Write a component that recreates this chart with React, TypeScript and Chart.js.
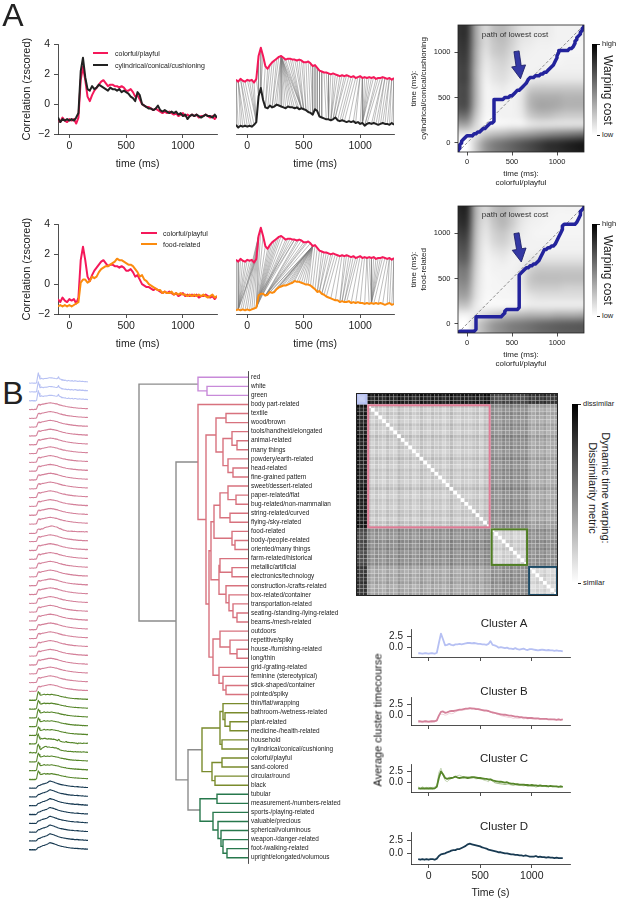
import React, { useEffect, useRef } from 'react';
import { Chart, registerables } from 'chart.js';

Chart.register(...registerables);

const FONT = '"Liberation Sans", Arial, Helvetica, sans-serif';
const INK = '#222222';
Chart.defaults.font.family = FONT;
Chart.defaults.color = INK;
if (typeof document !== 'undefined') document.body.style.margin = '0';

// ---------------- Panel A data ----------------
const TIME_MS = Array.from({ length: 71 }, (_, i) => -100 + 20 * i);
const msTicks = [0, 500, 1000];
const corrTicks = [-2, 0, 2, 4];

const colorfulPlayful = [
  -1.0, -1.2, -0.9, -1.1, -1.2, -1.0, -1.1, -1.0, -1.3, -0.9,
  1.6, 2.5, 1.6, 0.5, 0.2, 0.6, 0.9, 1.1, 1.3, 1.5,
  1.6, 1.4, 1.2, 1.3, 1.3, 1.2, 1.2, 1.1, 1.2, 1.1,
  0.9, 0.9, 1.0, 0.8, 0.5, 0.6, 0.3, 0.0, -0.1, -0.2,
  -0.2, -0.3, -0.4, -0.3, -0.4, -0.5, -0.6, -0.5, -0.6, -0.5,
  -0.6, -0.7, -0.6, -0.8, -0.7, -0.6, -0.8, -0.7, -0.8, -0.7,
  -0.8, -0.7, -0.9, -0.8, -0.8, -0.7, -0.8, -0.9, -0.8, -1.0,
  -0.8,
];
const cylindricalConical = [
  -0.9, -1.2, -1.0, -1.1, -1.0, -1.1, -1.0, -1.1, -0.9, -0.6,
  2.2, 3.1, 1.8, 1.0, 0.9, 1.2, 1.0, 1.1, 1.3, 1.2,
  1.1, 1.0, 0.9, 1.1, 1.0, 1.0, 0.9, 1.0, 0.8, 0.9,
  0.8, 0.7, 0.5, 0.4, 0.2, 0.8, 0.6, 0.0, -0.1, -0.2,
  -0.3, -0.3, -0.4, -0.3, -0.1, -0.4, -0.5, -0.4, -0.5, -0.6,
  -0.5, -0.6, -0.5, -0.7, -0.6, -0.8, -0.7, -1.0, -0.8, -0.7,
  -0.8, -0.7, -0.8, -0.9, -0.8, -0.7, -0.8, -0.8, -0.9, -0.7,
  -0.9,
];
const foodRelated = [
  -1.5, -1.4, -1.5, -1.4, -1.5, -1.4, -1.5, -1.4, -1.3, -1.2,
  0.1, 0.3, 0.3, 0.1, 0.2, 0.5, 0.4, 0.5, 0.8, 1.0,
  1.1, 1.2, 1.2, 1.3, 1.4, 1.5, 1.7, 1.6, 1.6, 1.5,
  1.4, 1.3, 1.3, 1.2, 1.0, 0.8, 0.5, 0.6, 0.3, 0.2,
  0.0, -0.1, -0.2, -0.3, -0.4, -0.4, -0.6, -0.5, -0.6, -0.6,
  -0.5, -0.7, -0.6, -0.7, -0.6, -0.7, -0.7, -0.8, -0.7, -0.8,
  -0.7, -0.8, -0.7, -0.8, -0.7, -0.8, -0.9, -0.8, -0.7, -0.9,
  -0.8,
];

// warping paths: [colorful/playful time, other time] in ms
const warpPathCylindrical = [
  [-100, -100], [-100, -80], [-80, -60], [-80, -40], [-80, -20], [-60, 0], [-60, 20], [-40, 40], [-20, 60], [0, 80],
  [20, 80], [40, 80], [60, 80], [80, 100], [100, 100], [120, 120], [140, 120], [160, 140], [180, 160], [200, 160],
  [220, 180], [240, 200], [260, 220], [280, 220], [300, 240], [300, 260], [300, 280], [300, 300], [300, 320], [300, 340],
  [300, 360], [300, 380], [300, 400], [300, 420], [300, 440], [300, 460], [300, 480], [320, 480], [340, 480], [360, 480],
  [380, 480], [400, 480], [420, 500], [440, 500], [460, 500], [480, 520], [500, 520], [520, 540], [540, 560], [560, 580],
  [580, 580], [600, 600], [620, 620], [640, 640], [660, 660], [680, 700], [700, 720], [720, 720], [740, 720], [760, 740],
  [780, 740], [800, 740], [820, 760], [840, 760], [860, 780], [880, 780], [900, 800], [920, 820], [940, 840], [960, 860],
  [980, 900], [1000, 940], [1000, 960], [1020, 1000], [1020, 1020], [1040, 1020], [1060, 1020], [1080, 1020], [1100, 1020], [1120, 1020],
  [1140, 1040], [1160, 1040], [1180, 1060], [1200, 1100], [1200, 1120], [1220, 1140], [1220, 1160], [1240, 1180], [1260, 1200], [1260, 1220],
  [1280, 1240], [1280, 1260], [1300, 1280], [1300, 1300],
];
const warpPathFood = [
  [-100, -100], [-80, -80], [-60, -80], [-40, -80], [-20, -80], [0, -80], [20, -80], [40, -80], [60, -80], [80, -80],
  [100, -60], [100, -40], [100, -20], [100, 0], [100, 20], [100, 40], [100, 60], [100, 80], [120, 80], [140, 80],
  [160, 80], [180, 80], [200, 80], [220, 80], [240, 80], [260, 80], [280, 80], [300, 80], [320, 80], [340, 80],
  [360, 80], [380, 80], [400, 100], [420, 120], [420, 140], [440, 160], [460, 160], [480, 160], [500, 160], [520, 160],
  [540, 160], [560, 160], [580, 180], [580, 200], [580, 220], [580, 240], [580, 260], [580, 280], [580, 300], [580, 320],
  [580, 340], [580, 360], [580, 380], [580, 400], [580, 420], [580, 440], [580, 460], [580, 480], [580, 500], [580, 520],
  [580, 540], [600, 560], [620, 580], [640, 600], [660, 620], [680, 620], [700, 640], [720, 640], [740, 660], [760, 660],
  [780, 680], [800, 700], [820, 740], [840, 780], [860, 820], [880, 820], [900, 840], [920, 840], [940, 860], [960, 860],
  [980, 880], [1000, 920], [1020, 960], [1040, 1000], [1060, 1040], [1060, 1080], [1080, 1100], [1100, 1100], [1120, 1100], [1140, 1100],
  [1160, 1100], [1180, 1100], [1200, 1100], [1220, 1120], [1240, 1160], [1260, 1200], [1260, 1240], [1280, 1260], [1300, 1280], [1300, 1300],
];

// warping cost grids, cells every 100 ms (-100..1300); rows from 1300 (top) down to -100
const warpCostCylindrical = [
  [.80, .80, .35, .15, .25, .28, .20, .12, .10, .08, .08, .05, .05, .05, .05],
  [.80, .80, .35, .15, .25, .28, .20, .12, .10, .08, .08, .05, .05, .05, .05],
  [.78, .78, .35, .15, .22, .25, .18, .10, .08, .06, .06, .05, .05, .04, .04],
  [.76, .76, .33, .12, .20, .22, .15, .08, .06, .05, .05, .04, .04, .04, .04],
  [.74, .74, .32, .10, .15, .18, .12, .06, .05, .05, .05, .04, .05, .05, .05],
  [.72, .72, .30, .08, .12, .15, .10, .05, .05, .06, .06, .06, .06, .06, .06],
  [.72, .72, .30, .06, .10, .12, .08, .05, .08, .10, .10, .10, .10, .10, .10],
  [.70, .70, .30, .05, .06, .08, .05, .08, .20, .22, .22, .22, .22, .22, .22],
  [.70, .70, .30, .05, .05, .06, .05, .10, .28, .32, .32, .32, .30, .30, .30],
  [.68, .68, .28, .05, .05, .05, .05, .10, .28, .35, .35, .33, .30, .30, .30],
  [.55, .55, .22, .04, .04, .05, .05, .08, .20, .25, .25, .22, .20, .20, .20],
  [.35, .35, .15, .03, .03, .04, .05, .05, .10, .12, .12, .12, .12, .12, .12],
  [.10, .10, .10, .20, .25, .28, .32, .35, .38, .42, .45, .48, .50, .52, .55],
  [.00, .00, .20, .40, .50, .55, .60, .65, .70, .75, .80, .82, .85, .88, .90],
  [.00, .00, .20, .40, .50, .55, .60, .65, .70, .75, .80, .82, .85, .88, .90],
];
const warpCostFood = [
  [.85, .85, .30, .15, .25, .30, .25, .15, .10, .08, .06, .05, .05, .05, .05],
  [.83, .83, .30, .15, .25, .30, .22, .12, .08, .06, .05, .04, .04, .04, .04],
  [.80, .80, .28, .12, .22, .28, .20, .10, .06, .05, .04, .04, .04, .04, .04],
  [.75, .75, .26, .10, .18, .22, .15, .08, .05, .04, .04, .04, .04, .04, .04],
  [.70, .70, .24, .08, .15, .18, .12, .06, .05, .05, .05, .05, .05, .05, .05],
  [.65, .65, .22, .06, .10, .12, .08, .05, .05, .06, .06, .06, .06, .06, .06],
  [.60, .60, .20, .05, .06, .08, .05, .06, .10, .12, .12, .12, .12, .12, .12],
  [.52, .52, .18, .04, .05, .05, .05, .08, .18, .22, .22, .22, .22, .22, .22],
  [.48, .48, .16, .04, .04, .05, .05, .10, .22, .26, .26, .26, .25, .25, .25],
  [.42, .42, .14, .04, .04, .04, .05, .08, .18, .20, .20, .20, .18, .18, .18],
  [.35, .35, .12, .03, .03, .04, .04, .06, .10, .12, .12, .12, .12, .12, .12],
  [.22, .22, .08, .03, .03, .03, .04, .05, .08, .08, .08, .08, .08, .08, .08],
  [.05, .05, .08, .15, .20, .24, .26, .28, .30, .30, .30, .32, .32, .32, .34],
  [.00, .00, .18, .30, .40, .45, .50, .52, .55, .58, .60, .62, .63, .64, .65],
  [.00, .00, .18, .30, .40, .45, .50, .52, .55, .58, .60, .62, .63, .64, .65],
];

// ---------------- Panel B data ----------------
const leafLabels = [
  'red', 'white', 'green', 'body part-related', 'textile', 'wood/brown', 'tools/handheld/elongated', 'animal-related',
  'many things', 'powdery/earth-related', 'head-related', 'fine-grained pattern', 'sweet/dessert-related', 'paper-related/flat',
  'bug-related/non-mammalian', 'string-related/curved', 'flying-/sky-related', 'food-related', 'body-/people-related',
  'oriented/many things', 'farm-related/historical', 'metallic/artificial', 'electronics/technology',
  'construction-/crafts-related', 'box-related/container', 'transportation-related', 'seating-/standing-/lying-related',
  'beams-/mesh-related', 'outdoors', 'repetitive/spiky', 'house-/furnishing-related', 'long/thin', 'grid-/grating-related',
  'feminine (stereotypical)', 'stick-shaped/container', 'pointed/spiky', 'thin/flat/wrapping', 'bathroom-/wetness-related',
  'plant-related', 'medicine-/health-related', 'household', 'cylindrical/conical/cushioning', 'colorful/playful',
  'sand-colored', 'circular/round', 'black', 'tubular', 'measurement-/numbers-related', 'sports-/playing-related',
  'valuable/precious', 'spherical/voluminous', 'weapon-/danger-related', 'foot-/walking-related', 'upright/elongated/volumous',
];
const clusterNames = ['Cluster A', 'Cluster B', 'Cluster C', 'Cluster D'];
const clusterSizes = [3, 33, 10, 8];

// linkage: [child a, child b, merge distance]; ids >= 54 refer to earlier merges
const linkage = [
  [1, 2, 41], [0, 54, 50], [4, 5, 22], [7, 8, 11], [6, 57, 16], [10, 11, 15], [9, 59, 20], [58, 60, 25], [56, 61, 32],
  [13, 14, 12], [12, 63, 20], [15, 16, 18], [64, 65, 28], [18, 19, 13], [17, 67, 16], [66, 68, 34], [21, 22, 16],
  [20, 70, 28], [26, 27, 11], [25, 72, 15], [24, 73, 19], [23, 74, 22], [71, 75, 29], [69, 76, 37], [30, 31, 11],
  [29, 78, 18], [28, 79, 28], [34, 35, 22], [33, 81, 25], [32, 82, 29], [80, 83, 35], [77, 84, 39], [62, 85, 42],
  [3, 86, 50], [38, 39, 18], [37, 88, 23], [36, 89, 25], [40, 41, 26], [90, 91, 28], [42, 43, 26], [44, 45, 33],
  [93, 94, 36], [92, 95, 46], [46, 47, 31], [52, 53, 21], [51, 98, 25], [50, 99, 27], [49, 100, 30], [48, 101, 35],
  [97, 102, 48], [96, 103, 60], [87, 104, 72], [55, 105, 109],
];

const clusterA = [
  -1.2, -1.2, -1.3, -1.2, -1.2, -1.3, -1.2, -1.2, -1.3, -1.1,
  1.0, 3.0, 1.8, 0.5, 0.6, 0.8, 0.6, 0.5, 0.7, 0.7,
  0.8, 0.7, 0.8, 0.9, 1.0, 1.0, 0.9, 1.0, 0.9, 0.8,
  0.8, 0.7, 0.7, 0.6, 0.8, 1.4, 0.6, 0.5, 0.3, 0.0,
  0.1, 0.0, -0.1, 0.0, -0.2, -0.2, -0.3, -0.1, -0.3, -0.4,
  -0.3, -0.2, -0.4, -0.5, -0.3, -0.3, -0.4, -0.5, -0.6, -0.5,
  -0.4, -0.5, -0.6, -0.5, -0.6, -0.6, -0.7, -0.6, -0.7, -0.7,
  -0.8,
];
const clusterB = [
  -1.2, -1.2, -1.3, -1.2, -1.2, -1.3, -1.2, -1.2, -1.2, -1.0,
  0.0, 0.8, 0.9, 0.6, 0.7, 0.9, 1.0, 1.0, 1.1, 1.2,
  1.3, 1.3, 1.4, 1.5, 1.5, 1.6, 1.5, 1.5, 1.4, 1.4,
  1.3, 1.2, 1.1, 1.1, 1.0, 0.8, 0.7, 0.6, 0.5, 0.4,
  0.3, 0.2, 0.2, 0.1, 0.0, 0.0, -0.1, -0.2, -0.2, -0.3,
  -0.3, -0.4, -0.4, -0.5, -0.5, -0.5, -0.6, -0.6, -0.6, -0.7,
  -0.7, -0.7, -0.7, -0.8, -0.8, -0.8, -0.8, -0.9, -0.8, -0.9,
  -0.8,
];
const clusterC = [
  -1.2, -1.3, -1.2, -1.3, -1.2, -1.3, -1.2, -1.3, -1.2, -0.9,
  1.0, 2.4, 1.8, 1.0, 0.8, 0.9, 1.0, 1.1, 1.3, 1.1,
  1.0, 1.1, 1.2, 1.1, 1.0, 1.1, 1.2, 1.2, 1.1, 1.0,
  1.0, 0.9, 0.8, 0.8, 0.7, 0.7, 0.5, 0.4, 0.3, 0.2,
  0.2, 0.1, 0.0, 0.1, -0.1, -0.2, -0.2, -0.3, -0.3, -0.4,
  -0.4, -0.4, -0.5, -0.5, -0.6, -0.5, -0.6, -0.6, -0.7, -0.6,
  -0.7, -0.7, -0.7, -0.8, -0.7, -0.8, -0.8, -0.8, -0.9, -0.8,
  -0.9,
];
const clusterD = [
  -1.1, -1.2, -1.1, -1.2, -1.1, -1.2, -1.1, -1.1, -1.2, -1.0,
  -0.5, -0.2, -0.1, 0.0, 0.2, 0.3, 0.5, 0.6, 0.6, 0.8,
  0.8, 1.0, 1.2, 1.4, 1.7, 1.8, 1.7, 1.6, 1.5, 1.4,
  1.3, 1.1, 1.0, 0.9, 0.7, 0.6, 0.5, 0.4, 0.3, 0.2,
  0.2, 0.1, 0.0, 0.0, -0.1, -0.2, -0.2, -0.3, -0.3, -0.4,
  -0.4, -0.5, -0.4, -0.5, -0.6, -0.6, -0.6, -0.5, -0.7, -0.6,
  -0.7, -0.7, -0.8, -0.7, -0.8, -0.8, -0.9, -0.8, -0.9, -0.9,
  -0.9,
];
const clusterTicks = [0, 2.5];

// DTW dissimilarity: block means between clusters, plus per-dimension deviation
const blockDissim = [
  [0.10, 0.88, 0.70, 0.78],
  [0.88, 0.20, 0.42, 0.33],
  [0.70, 0.42, 0.17, 0.42],
  [0.78, 0.33, 0.42, 0.15],
];
const leafDeviation = [
  0.03, -0.02, 0.01,
  0.05, -0.02, 0.03, 0.0, -0.03, 0.04, 0.0, -0.02, 0.06, 0.02, -0.01, 0.03, -0.03, 0.0, 0.05, 0.01, -0.02,
  0.04, 0.0, 0.02, -0.03, 0.01, 0.06, 0.0, -0.02, 0.03, 0.01, -0.01, 0.02, 0.04, -0.02, 0.05, 0.03,
  0.03, 0.0, -0.02, 0.04, 0.01, 0.05, -0.01, 0.02, 0.0, 0.03,
  0.02, -0.01, 0.03, 0.0, 0.04, -0.02, 0.01, 0.02,
];

// ---------------- styles ----------------
const PINK = '#f5185a';
const ORANGE = '#fb8b0e';
const BLACK = '#222222';
const PATH_BLUE = '#23239c';
const traceColors = ['#b6c0f3', '#d4819a', '#56862a', '#183a52'];
const dendroColors = ['#c88ad9', '#d8727e', '#7a8b2c', '#27784c'];
const DENDRO_GRAY = '#8c8c8c';

const leafCluster: number[] = clusterSizes.flatMap((n, c) => Array(n).fill(c));
const clusterStart: number[] = clusterSizes.map((_, c) => clusterSizes.slice(0, c).reduce((a, b) => a + b, 0));
const clusterMeans = [clusterA, clusterB, clusterC, clusterD];
const namedSeries: Record<string, number[]> = {
  'food-related': foodRelated,
  'cylindrical/conical/cushioning': cylindricalConical,
  'colorful/playful': colorfulPlayful,
};
const clusterMembersShown = [[], ['food-related'], ['cylindrical/conical/cushioning', 'colorful/playful'], []];

// ---------------- helpers ----------------
const pts = (vals: number[], shift = 0) => TIME_MS.map((t, i) => ({ x: t, y: vals[i] + shift }));
const valAt = (vals: number[], t: number) => vals[TIME_MS.indexOf(t)];
const fmt = (v: number, d = 0) => (v < 0 ? '\u2212' : '') + Math.abs(v).toFixed(d);

type Box = { l: number; t: number; r: number; b: number };

function axis(o: any) {
  return {
    type: 'linear',
    position: o.position,
    min: o.min,
    max: o.max,
    reverse: !!o.reverse,
    afterBuildTicks: (s: any) => {
      s.ticks = o.ticks.map((v: number) => ({ value: v }));
    },
    afterFit: (s: any) => {
      if (o.vertical) s.width = o.fit;
      else s.height = o.fit;
    },
    grid: {
      display: o.tickLen !== 0,
      drawOnChartArea: false,
      drawTicks: true,
      tickLength: o.tickLen ?? 4,
      color: INK,
      lineWidth: 0.8,
    },
    border: { display: o.border !== false, color: INK, width: 0.8 },
    ticks: {
      autoSkip: false,
      maxRotation: 0,
      minRotation: 0,
      padding: o.pad ?? 3,
      font: { family: FONT, size: o.size ?? 10 },
      color: INK,
      callback: o.labels ? o.labels : (v: number) => (o.noLabels ? '' : fmt(v, o.digits ?? 0)),
    },
    title: o.title
      ? { display: true, text: o.title, font: { family: FONT, size: o.titleSize ?? 10.5 }, color: INK, padding: 0 }
      : { display: false },
  };
}

function hidden(min: number, max: number, reverse = false) {
  return { type: 'linear', display: false, min, max, reverse };
}

function baseOptions(padding: any, scales: any) {
  return {
    animation: false,
    responsive: false,
    maintainAspectRatio: false,
    events: [],
    layout: { padding },
    plugins: { legend: { display: false }, tooltip: { enabled: false }, title: { display: false } },
    elements: { point: { radius: 0 }, line: { tension: 0, borderJoinStyle: 'round' } },
    scales,
  };
}

function CanvasChart({ box, make }: { box: Box; make: () => any }) {
  const ref = useRef<HTMLCanvasElement | null>(null);
  useEffect(() => {
    if (!ref.current) return;
    const chart = new Chart(ref.current, make());
    return () => chart.destroy();
  }, []);
  const w = box.r - box.l;
  const h = box.b - box.t;
  return (
    <canvas
      ref={ref}
      width={w}
      height={h}
      style={{ position: 'absolute', left: box.l, top: box.t, width: w, height: h }}
    />
  );
}

// ---------------- plugins ----------------
const heatPlugin = (grid: number[][]) => ({
  id: 'warpHeat',
  beforeDatasetsDraw(chart: any) {
    const { ctx, chartArea: a, scales } = chart;
    const rows = grid.length;
    const cols = grid[0].length;
    const off = document.createElement('canvas');
    off.width = cols;
    off.height = rows;
    const octx = off.getContext('2d')!;
    const img = octx.createImageData(cols, rows);
    grid.forEach((row, r) =>
      row.forEach((v, c) => {
        const g = Math.round(255 * (1 - v));
        const k = (r * cols + c) * 4;
        img.data[k] = g;
        img.data[k + 1] = g;
        img.data[k + 2] = g;
        img.data[k + 3] = 255;
      })
    );
    octx.putImageData(img, 0, 0);
    const x0 = scales.x.getPixelForValue(-150);
    const x1 = scales.x.getPixelForValue(1350);
    const y0 = scales.y.getPixelForValue(1350);
    const y1 = scales.y.getPixelForValue(-150);
    ctx.save();
    ctx.beginPath();
    ctx.rect(a.left, a.top, a.right - a.left, a.bottom - a.top);
    ctx.clip();
    ctx.imageSmoothingEnabled = true;
    ctx.imageSmoothingQuality = 'high';
    ctx.drawImage(off, x0, y0, x1 - x0, y1 - y0);
    ctx.restore();
  },
  afterDatasetsDraw(chart: any) {
    const { ctx, chartArea: a } = chart;
    ctx.save();
    ctx.strokeStyle = INK;
    ctx.lineWidth = 0.8;
    ctx.strokeRect(a.left, a.top, a.right - a.left, a.bottom - a.top);
    ctx.restore();
  },
});

const arrowPlugin = (from: number[], to: number[]) => ({
  id: 'costArrow',
  afterDatasetsDraw(chart: any) {
    const { ctx, scales } = chart;
    const x0 = scales.x.getPixelForValue(from[0]);
    const y0 = scales.y.getPixelForValue(from[1]);
    const x1 = scales.x.getPixelForValue(to[0]);
    const y1 = scales.y.getPixelForValue(to[1]);
    const ang = Math.atan2(y1 - y0, x1 - x0);
    const len = Math.hypot(x1 - x0, y1 - y0);
    const headL = 13;
    const headW = 7;
    const shaftW = 2.6;
    ctx.save();
    ctx.translate(x0, y0);
    ctx.rotate(ang);
    ctx.beginPath();
    ctx.moveTo(0, -shaftW);
    ctx.lineTo(len - headL, -shaftW);
    ctx.lineTo(len - headL, -headW);
    ctx.lineTo(len, 0);
    ctx.lineTo(len - headL, headW);
    ctx.lineTo(len - headL, shaftW);
    ctx.lineTo(0, shaftW);
    ctx.closePath();
    ctx.fillStyle = '#3438a3';
    ctx.fill();
    ctx.strokeStyle = '#1b1d66';
    ctx.lineWidth = 0.8;
    ctx.stroke();
    ctx.restore();
  },
});

function dissim(i: number, j: number) {
  if (i === j) return 0;
  const v = blockDissim[leafCluster[i]][leafCluster[j]] + leafDeviation[i] + leafDeviation[j];
  return Math.max(0, Math.min(1, v));
}

const matrixPlugin = {
  id: 'dtwMatrix',
  beforeDatasetsDraw(chart: any) {
    const { ctx, scales, chartArea: a } = chart;
    const n = leafLabels.length;
    const px = (v: number) => scales.x.getPixelForValue(v);
    const py = (v: number) => scales.y.getPixelForValue(v);
    ctx.save();
    for (let i = 0; i < n; i++) {
      for (let j = 0; j < n; j++) {
        const g = Math.round(255 * (1 - dissim(i, j)));
        ctx.fillStyle = `rgb(${g},${g},${g})`;
        ctx.fillRect(px(j), py(i), px(j + 1) - px(j), py(i + 1) - py(i));
      }
    }
    ctx.strokeStyle = 'rgba(255,255,255,0.35)';
    ctx.lineWidth = 0.5;
    for (let k = 1; k < n; k++) {
      ctx.beginPath();
      ctx.moveTo(px(k), a.top);
      ctx.lineTo(px(k), a.bottom);
      ctx.moveTo(a.left, py(k));
      ctx.lineTo(a.right, py(k));
      ctx.stroke();
    }
    clusterSizes.forEach((size, c) => {
      const s = clusterStart[c];
      const x0 = px(s), x1 = px(s + size), y0 = py(s), y1 = py(s + size);
      if (c === 0) {
        ctx.fillStyle = 'rgba(183,193,243,0.75)';
        ctx.fillRect(x0, y0, x1 - x0, y1 - y0);
      }
      ctx.strokeStyle = ['#b7c1f3', '#e07b95', '#4f7d22', '#1d4b66'][c];
      ctx.lineWidth = 2;
      ctx.strokeRect(x0 + 1, y0 + 1, x1 - x0 - 2, y1 - y0 - 2);
    });
    ctx.strokeStyle = INK;
    ctx.lineWidth = 1;
    ctx.strokeRect(a.left + 0.5, a.top + 0.5, a.right - a.left - 1, a.bottom - a.top - 1);
    ctx.restore();
  },
};

// ---------------- chart factories ----------------
function correlationChart(other: number[], otherColor: string, top: number) {
  const canvas = { l: 20, t: top - 10, r: 222, b: top + 126 };
  const plot = { l: 58, t: top, r: 217, b: top + 90 };
  const make = () => ({
    type: 'line',
    data: {
      datasets: [
        { data: pts(colorfulPlayful), borderColor: PINK, borderWidth: 2, pointRadius: 0, order: 2 },
        { data: pts(other), borderColor: otherColor, borderWidth: 2, pointRadius: 0, order: 1 },
      ],
    },
    options: baseOptions(
      { left: 0, right: canvas.r - plot.r, top: plot.t - canvas.t, bottom: 0 },
      {
        x: axis({ min: -100, max: 1300, ticks: msTicks, size: 10.5, title: 'time (ms)', fit: canvas.b - plot.b, pad: 2 }),
        y: axis({ min: -2, max: 4, ticks: corrTicks, size: 10.5, title: 'Correlation (zscored)', titleSize: 11, fit: plot.l - canvas.l, vertical: true, pad: 4 }),
      }
    ),
  });
  return { canvas, make };
}

function alignmentChart(other: number[], otherColor: string, path: number[][], top: number) {
  const canvas = { l: 230, t: top - 10, r: 400, b: top + 126 };
  const plot = { l: 236, t: top, r: 394, b: top + 90 };
  const connectors: any[] = [];
  path.forEach(([tp, to]) => {
    connectors.push({ x: tp, y: valAt(colorfulPlayful, tp) + 2.5 });
    connectors.push({ x: to, y: valAt(other, to) - 2.5 });
    connectors.push({ x: NaN, y: NaN });
  });
  const make = () => ({
    type: 'line',
    data: {
      datasets: [
        { data: connectors, borderColor: 'rgba(120,120,120,0.7)', borderWidth: 0.7, pointRadius: 0, order: 3, spanGaps: false },
        { data: pts(colorfulPlayful, 2.5), borderColor: PINK, borderWidth: 2, pointRadius: 0, order: 2 },
        { data: pts(other, -2.5), borderColor: otherColor, borderWidth: 2, pointRadius: 0, order: 1 },
      ],
    },
    options: baseOptions(
      { left: plot.l - canvas.l, right: canvas.r - plot.r, top: plot.t - canvas.t, bottom: 0 },
      {
        x: axis({ min: -100, max: 1300, ticks: msTicks, size: 10.5, title: 'time (ms)', fit: canvas.b - plot.b, pad: 2 }),
        y: hidden(-4.4, 5.4),
      }
    ),
  });
  return { canvas, make };
}

function warpChart(path: number[][], grid: number[][], otherName: string, top: number, arrowFrom: number[], arrowTo: number[]) {
  const canvas = { l: 409, t: top - 10, r: 590, b: top + 163 };
  const plot = { l: 458, t: top, r: 584, b: top + 127 };
  const make = () => ({
    type: 'line',
    data: {
      datasets: [
        {
          data: path.map(([a, b]) => ({ x: a, y: b })),
          borderColor: PATH_BLUE,
          borderWidth: 3.5,
          borderCapStyle: 'round',
          borderJoinStyle: 'round',
          pointRadius: 0,
          order: 1,
        },
        {
          data: [{ x: -100, y: -100 }, { x: 1300, y: 1300 }],
          borderColor: '#707070',
          borderWidth: 0.8,
          borderDash: [3, 2],
          pointRadius: 0,
          order: 2,
        },
      ],
    },
    options: baseOptions(
      { left: 0, right: canvas.r - plot.r, top: plot.t - canvas.t, bottom: 0 },
      {
        x: axis({ min: -100, max: 1300, ticks: msTicks, size: 7.5, title: ['time (ms):', 'colorful/playful'], titleSize: 8, fit: canvas.b - plot.b, tickLen: 3.5, pad: 2, border: false }),
        y: axis({ min: -100, max: 1300, ticks: msTicks, size: 7.5, title: ['time (ms):', otherName], titleSize: 8, fit: plot.l - canvas.l, vertical: true, tickLen: 3.5, pad: 4, border: false }),
      }
    ),
    plugins: [heatPlugin(grid), arrowPlugin(arrowFrom, arrowTo)],
  });
  return { canvas, make };
}

function tracesChart() {
  const canvas = { l: 25, t: 360, r: 95, b: 870 };
  const datasets = leafLabels.map((name, k) => {
    const series = namedSeries[name] ?? clusterMeans[leafCluster[k]];
    return {
      data: pts(series, -k * 3.67),
      borderColor: traceColors[leafCluster[k]],
      borderWidth: 1.1,
      pointRadius: 0,
    };
  });
  const make = () => ({
    type: 'line',
    data: { datasets },
    options: baseOptions({ left: 4, right: 7, top: 0, bottom: 0 }, { x: hidden(-100, 1300), y: hidden(-204.1, 8.38) }),
  });
  return { canvas, make };
}

function dendrogramChart() {
  const canvas = { l: 130, t: 365, r: 352, b: 870 };
  const n = leafLabels.length;
  const ys: number[] = leafLabels.map((_, i) => i);
  const hs: number[] = leafLabels.map(() => 0);
  const leaves: number[][] = leafLabels.map((_, i) => [i]);
  const segs: any[][] = [[], [], [], [], []];
  linkage.forEach(([a, b, h]) => {
    ys.push((ys[a] + ys[b]) / 2);
    hs.push(h);
    const lv = [...leaves[a], ...leaves[b]];
    leaves.push(lv);
    const c0 = leafCluster[lv[0]];
    const same = lv.every((i) => leafCluster[i] === c0);
    const bucket = same ? c0 : 4;
    segs[bucket].push(
      { x: hs[a], y: ys[a] },
      { x: h, y: ys[a] },
      { x: h, y: ys[b] },
      { x: hs[b], y: ys[b] },
      { x: NaN, y: NaN }
    );
  });
  const colors = [...dendroColors, DENDRO_GRAY];
  const make = () => ({
    type: 'line',
    data: {
      datasets: segs.map((d, i) => ({
        data: d,
        borderColor: colors[i],
        borderWidth: 1.4,
        pointRadius: 0,
        spanGaps: false,
        borderJoinStyle: 'miter',
      })),
    },
    options: baseOptions(
      { left: 8, right: 0, top: 6.6, bottom: 6.6 },
      {
        x: hidden(0, 110, true),
        y: axis({
          position: 'right',
          min: -0.6,
          max: n - 0.4,
          reverse: true,
          ticks: ys.slice(0, n),
          size: 6.4,
          vertical: true,
          fit: 104,
          tickLen: 0,
          pad: 3,
          labels: (v: number) => leafLabels[v],
        }),
      }
    ),
  });
  return { canvas, make };
}

function matrixChart() {
  const canvas = { l: 356, t: 393, r: 558, b: 596 };
  const n = leafLabels.length;
  const make = () => ({
    type: 'line',
    data: { datasets: [] },
    options: baseOptions(0, { x: hidden(0, n), y: hidden(0, n, true) }),
    plugins: [matrixPlugin],
  });
  return { canvas, make };
}

const clusterPlotTops = [625, 693, 760, 828];
function clusterChart(c: number) {
  const pt = clusterPlotTops[c];
  const plot = { l: 411, t: pt, r: 570, b: pt + 36 };
  const last = c === clusterNames.length - 1;
  const canvas = { l: 372, t: pt - 6, r: 576, b: last ? 899 : pt + 42 };
  const faint = clusterMembersShown[c].map((name) => ({
    data: pts(namedSeries[name]),
    borderColor: traceColors[c] + '55',
    borderWidth: 1,
    pointRadius: 0,
    order: 2,
  }));
  const make = () => ({
    type: 'line',
    data: {
      datasets: [
        ...faint,
        { data: pts(clusterMeans[c]), borderColor: traceColors[c], borderWidth: 1.8, pointRadius: 0, order: 1 },
      ],
    },
    options: baseOptions(
      { left: 0, right: canvas.r - plot.r, top: plot.t - canvas.t, bottom: 0 },
      {
        x: axis({
          min: -170,
          max: 1370,
          ticks: msTicks,
          size: 10.5,
          noLabels: !last,
          title: last ? 'Time (s)' : undefined,
          titleSize: 10.5,
          fit: canvas.b - plot.b,
          pad: 2,
        }),
        y: axis({ min: -2, max: 4, ticks: clusterTicks, size: 10, digits: 1, vertical: true, fit: plot.l - canvas.l, pad: 4 }),
      }
    ),
  });
  return { canvas, make };
}

// ---------------- overlays ----------------
function Txt(p: { x: number; y: number; size: number; children: any; rot?: number; align?: 'left' | 'center'; color?: string }) {
  const tx = p.align === 'left' ? '0' : '-50%';
  return (
    <div
      style={{
        position: 'absolute',
        left: p.x,
        top: p.y,
        transform: `translate(${tx}, -50%) rotate(${p.rot ?? 0}deg)`,
        fontFamily: FONT,
        fontSize: p.size,
        lineHeight: 1,
        whiteSpace: 'nowrap',
        color: p.color ?? INK,
        zIndex: 2,
      }}
    >
      {p.children}
    </div>
  );
}

function Bar(p: { l: number; t: number; w: number; h: number; bg: string }) {
  return <div style={{ position: 'absolute', left: p.l, top: p.t, width: p.w, height: p.h, background: p.bg }} />;
}

function Colorbar(p: { l: number; t: number; w: number; h: number; hi: string; lo: string }) {
  return (
    <>
      <Bar l={p.l} t={p.t} w={p.w} h={p.h} bg="linear-gradient(to bottom, #000000, #ffffff)" />
      <Bar l={p.l + p.w} t={p.t - 0.5} w={3} h={1} bg={INK} />
      <Bar l={p.l + p.w} t={p.t + p.h - 0.5} w={3} h={1} bg={INK} />
      <Txt x={p.l + p.w + 5} y={p.t} size={7.5} align="left">{p.hi}</Txt>
      <Txt x={p.l + p.w + 5} y={p.t + p.h} size={7.5} align="left">{p.lo}</Txt>
    </>
  );
}

export default function App() {
  useEffect(() => {
    document.body.style.margin = '0';
  }, []);

  const charts = [
    correlationChart(cylindricalConical, BLACK, 44),
    correlationChart(foodRelated, ORANGE, 224),
    alignmentChart(cylindricalConical, BLACK, warpPathCylindrical, 44),
    alignmentChart(foodRelated, ORANGE, warpPathFood, 224),
    warpChart(warpPathCylindrical, warpCostCylindrical, 'cylindrical/conical/cushioning', 25, [550, 1010], [594, 707]),
    warpChart(warpPathFood, warpCostFood, 'food-related', 206, [550, 1000], [603, 683]),
    tracesChart(),
    dendrogramChart(),
    matrixChart(),
    ...clusterNames.map((_, c) => clusterChart(c)),
  ];

  return (
    <div style={{ position: 'relative', width: 625, height: 899, background: '#ffffff', overflow: 'hidden' }}>
      {charts.map((c, i) => (
        <CanvasChart key={i} box={c.canvas} make={c.make} />
      ))}

      <Txt x={13} y={15} size={32}>A</Txt>
      <Txt x={13} y={393} size={32}>B</Txt>

      {/* legends */}
      <Bar l={93} t={52} w={15} h={2} bg={PINK} />
      <Txt x={115} y={53} size={7} align="left">colorful/playful</Txt>
      <Bar l={93} t={64} w={15} h={2} bg={BLACK} />
      <Txt x={115} y={65} size={7} align="left">cylindrical/conical/cushioning</Txt>
      <Bar l={141} t={232} w={16} h={2} bg={PINK} />
      <Txt x={163} y={233} size={7} align="left">colorful/playful</Txt>
      <Bar l={141} t={243} w={16} h={2} bg={ORANGE} />
      <Txt x={163} y={244} size={7} align="left">food-related</Txt>

      {/* warping cost annotations */}
      <Txt x={515} y={35} size={8} color="#333">path of lowest cost</Txt>
      <Txt x={515} y={215} size={8} color="#333">path of lowest cost</Txt>
      <Colorbar l={592} t={44} w={5} h={91} hi="high" lo="low" />
      <Colorbar l={592} t={224} w={5} h={92} hi="high" lo="low" />
      <Txt x={608} y={90} size={12} rot={90}>Warping cost</Txt>
      <Txt x={608} y={270} size={12} rot={90}>Warping cost</Txt>

      {/* matrix colorbar */}
      <Colorbar l={572} t={404} w={6} h={179} hi="dissimilar" lo="similar" />
      <Txt x={605} y={488} size={11} rot={90}>Dynamic time warping:</Txt>
      <Txt x={592} y={488} size={11} rot={90}>Dissimilarity metric</Txt>

      {/* cluster titles */}
      {clusterNames.map((name, c) => (
        <Txt key={name} x={504} y={clusterPlotTops[c] - 1} size={11.5}>{name}</Txt>
      ))}
      <Txt x={378} y={720} size={11} rot={-90} color="#111">Average cluster timecourse</Txt>
    </div>
  );
}
